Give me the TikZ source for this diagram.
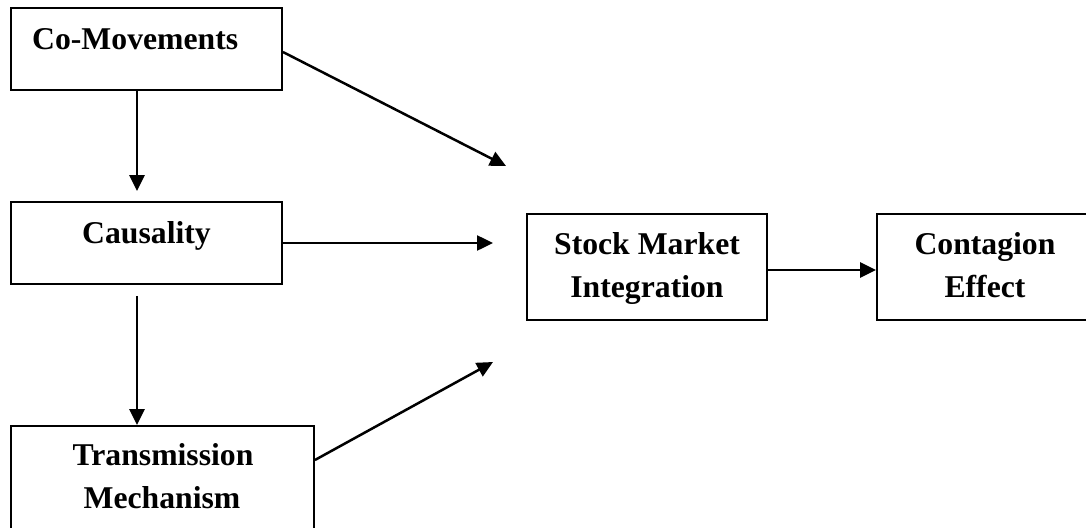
\documentclass[tikz,border=0pt]{standalone}
\usepackage{fontspec}
\setmainfont{Liberation Serif}
\usetikzlibrary{arrows.meta}
\tikzset{
  boxnode/.style={draw, line width=1.9pt, rectangle, inner sep=0pt},
  lbl/.style={anchor=base, inner sep=0pt, font=\bfseries\fontsize{31.7}{38}\selectfont},
  arr/.style={line width=2.5pt, -{Triangle[length=16pt,width=15pt]}}
}
\begin{document}
\begin{tikzpicture}[x=1pt,y=-1pt]
\useasboundingbox (0,0) rectangle (1086,527);
\clip (0,0) rectangle (1086,527);
% boxes
\node[boxnode, minimum width=271pt, minimum height=82pt] (co) at (146.5,49) {};
\node[boxnode, minimum width=271pt, minimum height=82pt] (caus) at (146.5,243) {};
\node[boxnode, minimum width=303pt, minimum height=114pt] (trans) at (162.5,483) {};
\node[boxnode, minimum width=240pt, minimum height=106pt] (stock) at (647,267) {};
\node[boxnode, minimum width=243pt, minimum height=106pt] (cont) at (998.5,267) {};
% texts
\node[lbl, anchor=base west] (coT) at (32,49) {Co-Movements};
\node[lbl] (causT) at (146.5,243) {Causality};
\node[lbl] (transT1) at (163,465) {Transmission};
\node[lbl] (transT2) at (162,508) {Mechanism};
\node[lbl] (stockT1) at (647,254) {Stock Market};
\node[lbl] (stockT2) at (647,297) {Integration};
\node[lbl] (contT1) at (985,254) {Contagion};
\node[lbl] (contT2) at (985,297) {Effect};
% free ends
\coordinate (t1) at (506,166);
\coordinate (t2) at (493,243);
\coordinate (t3) at (493,362);
% connectors
\draw[arr] ([xshift=-9.5pt]co.south) -- ([xshift=-9.5pt,yshift=10pt]caus.north);
\draw[arr] ([xshift=-9.5pt,yshift=-11pt]caus.south) -- ([xshift=-25.5pt]trans.north);
\draw[arr] ([yshift=-3pt]co.east) -- (t1);
\draw[arr] (caus.east) -- (t2);
\draw[arr] ([yshift=23pt]trans.east) -- (t3);
\draw[arr] ([yshift=-3pt]stock.east) -- ([yshift=-3pt]cont.west);
\end{tikzpicture}
\end{document}
